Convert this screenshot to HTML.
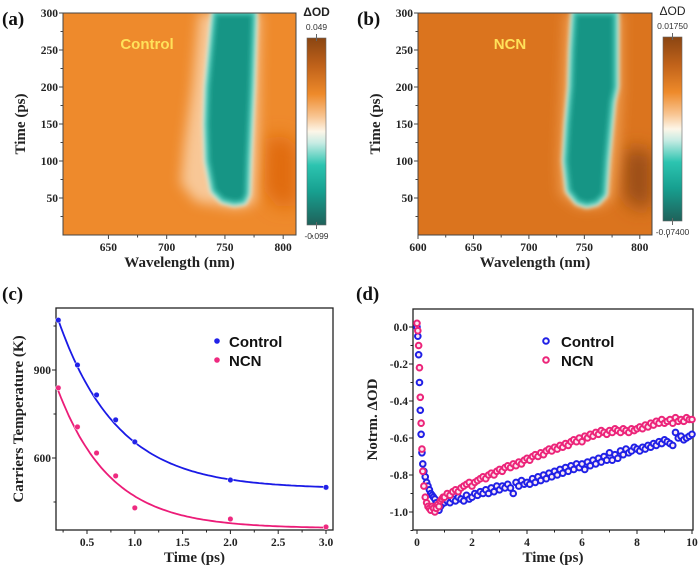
<!DOCTYPE html>
<html><head><meta charset="utf-8"><style>
body{margin:0;background:#fff;}
svg{display:block;font-family:"Liberation Serif",serif;}
.t{font-size:11.5px;font-weight:bold;fill:#222;}
.at{font-size:15px;font-weight:bold;fill:#222;}
.pl{font-size:19px;font-weight:bold;fill:#111;}
.lg{font-family:"Liberation Sans",sans-serif;font-size:15px;font-weight:bold;fill:#111;}
</style></head><body>
<svg id="fig" width="700" height="568" viewBox="0 0 700 568" xmlns="http://www.w3.org/2000/svg">
<defs>
<filter id="b6" x="-50%" y="-50%" width="200%" height="200%"><feGaussianBlur stdDeviation="6"/></filter>
<filter id="b3" x="-50%" y="-50%" width="200%" height="200%"><feGaussianBlur stdDeviation="2.5"/></filter>
<filter id="b10" x="-50%" y="-50%" width="200%" height="200%"><feGaussianBlur stdDeviation="9"/></filter>
<linearGradient id="cbar" x1="0" y1="0" x2="0" y2="1">
<stop offset="0" stop-color="#8a4512"/><stop offset="0.15" stop-color="#c0621a"/><stop offset="0.3" stop-color="#ee8a2a"/>
<stop offset="0.42" stop-color="#f8c592"/><stop offset="0.5" stop-color="#fdf6e8"/><stop offset="0.56" stop-color="#c8ece4"/>
<stop offset="0.68" stop-color="#2cc4b0"/><stop offset="0.82" stop-color="#17a090"/><stop offset="1" stop-color="#1f615a"/>
</linearGradient>
<clipPath id="clipA"><rect x="63" y="13" width="233" height="222"/></clipPath>
<clipPath id="clipB"><rect x="418" y="13" width="234" height="222"/></clipPath>
</defs>
<g id="root"></g>
</svg>
<script>
// ---- panel (c) data ----
const cTimes=[0.2,0.4,0.6,0.8,1.0,2.0,3.0];
const cControl=[1070,917,815,730,655,525,500];
const cNCN=[839,706,617,539,430,392,365];
const cFitControl=[495,700,0.62]; // offset, amplitude, tau
const cFitNCN=[360,580,0.55];
const cXTicks=[0.5,1.0,1.5,2.0,2.5,3.0];
const cYTicks=[600,900];
// ---- panel (d) data ----
const dEarlyT=[0,0.03,0.06,0.09,0.12,0.15,0.18,0.21,0.25,0.3,0.35,0.4,0.45,0.5,0.55,0.6,0.65,0.7,0.75,0.8,0.85,0.9,0.95];
const dCtrlEarly=[0,-0.05,-0.15,-0.3,-0.45,-0.58,-0.68,-0.74,-0.78,-0.81,-0.84,-0.86,-0.88,-0.9,-0.91,-0.92,-0.93,-0.95,-0.97,-0.99,-0.97,-0.96,-0.95];
const dNcnEarly=[0.02,-0.02,-0.1,-0.22,-0.38,-0.52,-0.66,-0.78,-0.86,-0.92,-0.95,-0.97,-0.98,-0.99,-0.97,-0.98,-1.0,-0.98,-0.96,-0.97,-0.94,-0.93,-0.92];
const dLateStart=1.0, dLateStep=0.1;
const dCtrlLate=[-0.95,-0.94,-0.95,-0.93,-0.94,-0.92,-0.93,-0.94,-0.91,-0.93,
-0.92,-0.90,-0.91,-0.89,-0.90,-0.88,-0.90,-0.87,-0.89,-0.86,
-0.88,-0.86,-0.87,-0.85,-0.87,-0.90,-0.84,-0.86,-0.83,-0.85,
-0.84,-0.85,-0.82,-0.84,-0.81,-0.83,-0.80,-0.82,-0.79,-0.81,
-0.78,-0.80,-0.77,-0.79,-0.76,-0.78,-0.75,-0.77,-0.74,-0.76,
-0.74,-0.77,-0.73,-0.75,-0.72,-0.74,-0.71,-0.73,-0.70,-0.72,
-0.68,-0.72,-0.69,-0.71,-0.67,-0.69,-0.66,-0.68,-0.67,-0.65,
-0.66,-0.67,-0.65,-0.66,-0.64,-0.65,-0.63,-0.64,-0.62,-0.63,
-0.61,-0.62,-0.63,-0.64,-0.57,-0.60,-0.59,-0.61,-0.60,-0.59,-0.58];
const dNcnLate=[-0.92,-0.90,-0.91,-0.89,-0.88,-0.89,-0.87,-0.86,-0.85,-0.84,
-0.86,-0.84,-0.83,-0.82,-0.81,-0.82,-0.80,-0.79,-0.80,-0.78,
-0.77,-0.78,-0.76,-0.75,-0.76,-0.74,-0.75,-0.73,-0.74,-0.72,
-0.71,-0.72,-0.70,-0.69,-0.70,-0.68,-0.69,-0.67,-0.66,-0.67,
-0.65,-0.66,-0.64,-0.65,-0.63,-0.64,-0.62,-0.61,-0.62,-0.60,
-0.62,-0.59,-0.60,-0.58,-0.59,-0.57,-0.58,-0.56,-0.57,-0.58,
-0.56,-0.57,-0.55,-0.56,-0.57,-0.55,-0.56,-0.57,-0.55,-0.56,
-0.55,-0.54,-0.55,-0.53,-0.54,-0.52,-0.53,-0.51,-0.52,-0.50,
-0.52,-0.51,-0.50,-0.52,-0.49,-0.51,-0.50,-0.51,-0.49,-0.50,-0.50];
const dXTicks=[0,2,4,6,8,10];
const dYTicks=[0.0,-0.2,-0.4,-0.6,-0.8,-1.0];
// ---- heatmap contours (wavelength nm, time ps) ----
const aTeal=[[741,300],[738,250],[735,200],[734,150],[735,100],[740,60],[748,47],[758,43],[766,45],[769,55],[770,100],[773,200],[775,300]];
const aFringe=[[728,300],[722,200],[715,120],[712,70],[725,45],[760,36],[776,42],[778,100],[780,300]];
const aBlob=[[785,130],[800,135],[812,120],[812,40],[795,38],[784,60]];
const bTeal=[[741,300],[739,250],[738,200],[735,150],[733,100],[736,60],[744,45],[752,41],[761,44],[768,55],[770,100],[775,180],[778,200],[778,300]];
const bFringe=[[733,300],[730,200],[727,100],[728,55],[745,37],[765,38],[776,50],[780,100],[784,200],[784,300]];
const bBlob=[[786,115],[800,118],[812,110],[812,40],[795,35],[785,55]];
const aXTicks=[650,700,750,800], bXTicks=[600,650,700,750,800];
const hmYTicks=[50,100,150,200,250,300];

const NS="http://www.w3.org/2000/svg";
const root=document.getElementById('root');
function mk(tag,attrs,parent,text){const e=document.createElementNS(NS,tag);for(const k in attrs)e.setAttribute(k,attrs[k]);if(text!==undefined)e.textContent=text;(parent||root).appendChild(e);return e;}

// ===== heatmaps =====
function heatmap(id,x0,x1,y0,y1,wMin,wMax,base,light,clip,teal,fringe,blob,blobCol,xticks,label,name,cbX,cbTop,cbBot,vmax,vmin,hx){
  const g=mk('g',{});
  
  
  const X=w=>x0+(w-wMin)/(wMax-wMin)*(x1-x0);
  const Y=t=>y1-(t/300)*(y1-y0);
  const pts=a=>a.map(p=>X(p[0]).toFixed(1)+','+Y(p[1]).toFixed(1)).join(' ');
  const cg=mk('g',{'clip-path':'url(#'+clip+')'},g);
  const bg=mk('rect',{x:x0,y:y0,width:x1-x0,height:y1-y0,fill:base},cg);
  
  const bl=mk('polygon',{points:pts(blob),fill:blobCol,filter:'url(#b10)'},cg);
  
  const fr=mk('polygon',{points:pts(fringe),fill:light,filter:'url(#b6)'},cg);
  
  const wh=mk('polygon',{points:pts(teal),fill:'#fff6ea',stroke:'#fff6ea','stroke-width':7,filter:'url(#b3)'},cg);
  
  const te=mk('polygon',{points:pts(teal),fill:'#129585',stroke:'#3cc4b2','stroke-width':4,filter:'url(#b3)'},cg);
  
  mk('rect',{x:x0,y:y0,width:x1-x0,height:y1-y0,fill:'none',stroke:'#444','stroke-width':1},g);
  xticks.forEach(v=>{const t=mk('text',{x:X(v),y:y1+16,'text-anchor':'middle',class:'t'},g,v);
    
    mk('line',{x1:X(v),x2:X(v),y1:y1,y2:y1+4,stroke:'#444'},g);
    mk('line',{x1:X(v+25),x2:X(v+25),y1:y1,y2:y1+2.5,stroke:'#444'},g);});
  hmYTicks.forEach(v=>{const t=mk('text',{x:x0-5,y:Y(v)+4,'text-anchor':'end',class:'t'},g,v);
    
    mk('line',{x1:x0-4,x2:x0,y1:Y(v),y2:Y(v),stroke:'#444'},g);
    mk('line',{x1:x0-2.5,x2:x0,y1:Y(v-25),y2:Y(v-25),stroke:'#444'},g);});
  const xt=mk('text',{x:(x0+x1)/2,y:y1+32,'text-anchor':'middle',class:'at'},g,'Wavelength (nm)');
  
  const yt=mk('text',{x:0,y:0,'text-anchor':'middle',class:'at',transform:'translate('+(x0-38)+','+((y0+y1)/2)+') rotate(-90)'},g,'Time (ps)');
  
  const lb=mk('text',{x:hx,y:y0+36,'text-anchor':'middle','font-family':'Liberation Sans, sans-serif','font-size':15,'font-weight':'bold',fill:'#ffe15a'},g,name);
  
  const pl=mk('text',{x:x0-61,y:y0+12,class:'pl'},g,label);
  
  const cb=mk('rect',{x:cbX,y:cbTop,width:19,height:cbBot-cbTop,fill:'url(#cbar)',stroke:'#666','stroke-width':0.6},g);
  
  mk('line',{x1:cbX+9.5,x2:cbX+9.5,y1:cbTop-4,y2:cbTop+3,stroke:'#666'},g);
  mk('line',{x1:cbX+9.5,x2:cbX+9.5,y1:cbBot-3,y2:cbBot+4,stroke:'#666'},g);
  const ct=mk('text',{x:cbX+9.5,y:cbTop-22,'text-anchor':'middle','font-family':'Liberation Sans, sans-serif','font-size':12,fill:'#222','font-weight':id==='a'?'bold':'normal'},g,'ΔOD');
  
  const c1=mk('text',{x:cbX+9.5,y:cbTop-8,'text-anchor':'middle','font-family':'Liberation Sans, sans-serif','font-size':8.5,fill:'#333'},g,vmax);
  
  const c2=mk('text',{x:cbX+9.5,y:cbBot+14,'text-anchor':'middle','font-family':'Liberation Sans, sans-serif','font-size':8.5,fill:'#333'},g,vmin);
  
}
heatmap('a',63,296,13,235,611,811,'#ee8a2c','#f8c796','clipA',aTeal,aFringe,aBlob,'#e06a10',aXTicks,'(a)','Control',307,38,225,'0.049','-0.099',147);
heatmap('b',418,652,13,235,600,811,'#db741e','#f0a055','clipB',bTeal,bFringe,bBlob,'#9a4d12',bXTicks,'(b)','NCN',663,37,221,'0.01750','-0.07400',510);

// ===== panel (c) =====
(function(){
  const x0=56,x1=333,y0=308,y1=530;
  const X=t=>87+(t-0.5)/0.5*47.8;
  const Y=v=>370-(v-900)/300*88;
  const g=mk('g',{});
  
  mk('rect',{x:x0,y:y0,width:x1-x0,height:y1-y0,fill:'none',stroke:'#222','stroke-width':1.3},g);
  cXTicks.forEach(v=>{mk('line',{x1:X(v),x2:X(v),y1:y1,y2:y1+4,stroke:'#222'},g);
    mk('line',{x1:X(v-0.25),x2:X(v-0.25),y1:y1,y2:y1+2.5,stroke:'#222'},g);
    const t=mk('text',{x:X(v),y:y1+16,'text-anchor':'middle',class:'t'},g,v.toFixed(1));
    });
  cYTicks.forEach(v=>{mk('line',{x1:x0-4,x2:x0,y1:Y(v),y2:Y(v),stroke:'#222'},g);
    const t=mk('text',{x:x0-5,y:Y(v)+4,'text-anchor':'end',class:'t'},g,v);
    });
  [450,750,1050].forEach(v=>mk('line',{x1:x0-2.5,x2:x0,y1:Y(v),y2:Y(v),stroke:'#222'},g));
  function cFirst(nm){return nm==='control'?cControl[0]:cNCN[0]-10;}
  function fit(p,col,nm){let d='';for(let i=0;i<=100;i++){const t=0.2+2.8*i/100;
    d+=(i?'L':'M')+X(t).toFixed(1)+','+Y(p[0]+(cFirst(nm)-p[0])*Math.exp(-(t-0.2)/p[2])).toFixed(1);}
    const e=mk('path',{d:d,fill:'none',stroke:col,'stroke-width':1.8},g);
    }
  fit(cFitControl,'#1a1ae6','control');fit(cFitNCN,'#ec1c78','ncn');
  function pts(arr,col,nm){arr.forEach((v,i)=>{const c=mk('circle',{cx:X(cTimes[i]),cy:Y(v),r:2.8,fill:col,stroke:'#fff','stroke-width':0.5},g);
    });}
  pts(cControl,'#2222e8','control');pts(cNCN,'#ee2a80','ncn');
  const l1=mk('circle',{cx:217,cy:341,r:2.8,fill:'#2222e8'},g);
  const t1=mk('text',{x:229,y:347,class:'lg'},g,'Control');
  const l2=mk('circle',{cx:217,cy:360,r:2.8,fill:'#ee2a80'},g);
  const t2=mk('text',{x:229,y:366,class:'lg'},g,'NCN');
  const xt=mk('text',{x:(x0+x1)/2,y:y1+32,'text-anchor':'middle',class:'at'},g,'Time (ps)');
  const yt=mk('text',{x:0,y:0,'text-anchor':'middle',class:'at',transform:'translate(23,'+((y0+y1)/2)+') rotate(-90)'},g,'Carriers Temperature (K)');
  const pl=mk('text',{x:2,y:300,class:'pl'},g,'(c)');
})();

// ===== panel (d) =====
(function(){
  const x0=413,x1=693,y0=309,y1=530;
  const X=t=>417+t*27.5;
  const Y=v=>327-v/0.2*37;
  const g=mk('g',{});
  
  mk('rect',{x:x0,y:y0,width:x1-x0,height:y1-y0,fill:'none',stroke:'#222','stroke-width':1.3},g);
  dXTicks.forEach(v=>{mk('line',{x1:X(v),x2:X(v),y1:y1,y2:y1+4,stroke:'#222'},g);
    if(v<10)mk('line',{x1:X(v+1),x2:X(v+1),y1:y1,y2:y1+2.5,stroke:'#222'},g);
    const t=mk('text',{x:X(v),y:y1+16,'text-anchor':'middle',class:'t'},g,v);
    });
  dYTicks.forEach(v=>{mk('line',{x1:x0-4,x2:x0,y1:Y(v),y2:Y(v),stroke:'#222'},g);
    mk('line',{x1:x0-2.5,x2:x0,y1:Y(v-0.1),y2:Y(v-0.1),stroke:'#222'},g);
    const t=mk('text',{x:x0-5,y:Y(v)+4,'text-anchor':'end',class:'t'},g,v.toFixed(1));
    });
  function series(early,late,col,nm){
    const ts=dEarlyT.concat(late.map((_,i)=>dLateStart+i*dLateStep));
    const vs=early.concat(late);
    ts.forEach((t,i)=>{const c=mk('circle',{cx:X(t),cy:Y(vs[i]),r:2.8,fill:'#fbe9f2',stroke:col,'stroke-width':2},g);
      });}
  series(dCtrlEarly,dCtrlLate,'#2020e6','control');
  series(dNcnEarly,dNcnLate,'#ec2479','ncn');
  const l1=mk('circle',{cx:546,cy:341,r:2.8,fill:'#fff',stroke:'#2020e6','stroke-width':2},g);
  const t1=mk('text',{x:561,y:347,class:'lg'},g,'Control');
  const l2=mk('circle',{cx:546,cy:360,r:2.8,fill:'#fff',stroke:'#ec2479','stroke-width':2},g);
  const t2=mk('text',{x:561,y:366,class:'lg'},g,'NCN');
  const xt=mk('text',{x:(x0+x1)/2,y:y1+32,'text-anchor':'middle',class:'at'},g,'Time (ps)');
  const yt=mk('text',{x:0,y:0,'text-anchor':'middle',class:'at',transform:'translate(377,'+((y0+y1)/2)+') rotate(-90)'},g,'Notrm. ΔOD');
  const pl=mk('text',{x:356,y:300,class:'pl'},g,'(d)');
})();
</script>
</body></html>
